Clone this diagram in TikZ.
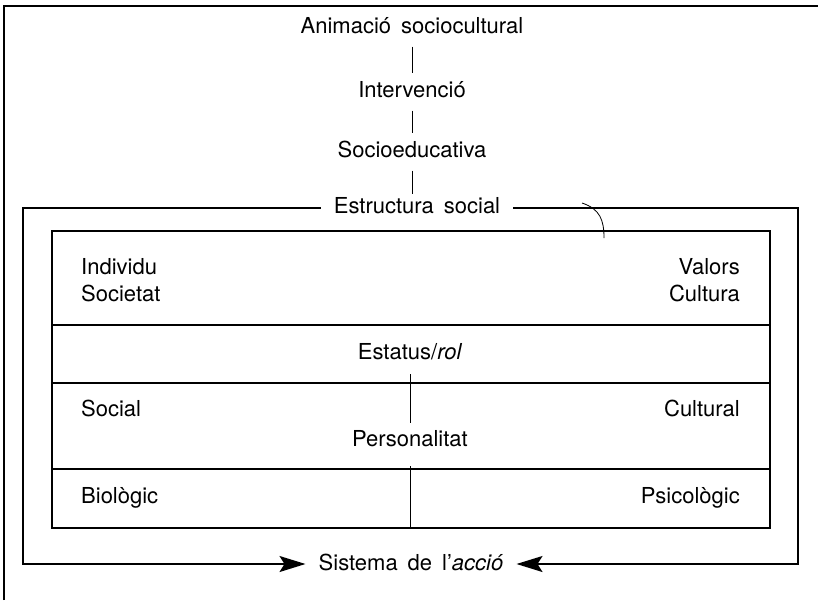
\documentclass[tikz,border=0pt]{standalone}
\usepackage{fontspec}
\setmainfont{TeX Gyre Heros}
\usetikzlibrary{arrows.meta,positioning}

\newcommand\lblfont{\fontsize{22}{25}\selectfont\spaceskip=10pt plus 2pt\relax}

\tikzset{
  lbl/.style={inner sep=3pt, text height=15pt, text depth=4pt, font=\lblfont},
  link/.style={line width=1pt, shorten <=6pt, shorten >=6pt},
  frame/.style={line width=1.6pt},
  gap/.style={lbl, inner xsep=13pt},
  tip/.style={-{Stealth[length=26pt, width=16pt, inset=5pt]}},
}

\begin{document}
\begin{tikzpicture}[x=1pt, y=-1pt]
  \useasboundingbox (0,0) rectangle (818,600);
  \draw[frame] (4,600) -- (4,6) -- (818,6);

  \node[lbl] (anim) at (412,28) {Animació sociocultural};
  \node[lbl] (interv) at (412,92) {Intervenció};
  \node[lbl] (socio) at (412,152) {Socioeducativa};
  \node[gap] (estr) at (417,208) {Estructura social};
  \draw[link] (anim) -- (interv);
  \draw[link] (interv) -- (socio);
  \draw[link, shorten >=1pt] (socio) -- (socio |- estr.north);

  \node[gap] (sist) at (411,565) {Sistema de l'\textit{acció}};
  \coordinate (otl) at (23,208);
  \coordinate (otr) at (798,208);
  \coordinate (obl) at (23,564);
  \coordinate (obr) at (798,564);
  \draw[frame, tip] (estr.west) -- (otl) -- (obl) -- (sist.west |- obl);
  \draw[frame, tip] (estr.east) -- (otr) -- (obr) -- (sist.east |- obr);
  \draw[line width=0.8pt] (582,203) .. controls (600,209) and (604,220) .. (604,238);

  \draw[frame] (52,231) rectangle (770,528);
  \draw[frame] (52,325) -- (770,325);
  \draw[frame] (52,383) -- (770,383);
  \draw[frame] (52,469) -- (770,469);
  \draw[line width=1pt] (410,374) -- (410,423);
  \draw[line width=1pt] (410,466) -- (410,528);

  \node[lbl, anchor=west] (indiv) at (78,269) {Individu};
  \node[lbl, anchor=west] (soc) at (78,296) {Societat};
  \node[lbl, anchor=east] (valors) at (743,269) {Valors};
  \node[lbl, anchor=east] (cult) at (743,296) {Cultura};
  \node[lbl] (estat) at (410,354) {Estatus/\textit{rol}};
  \node[lbl, anchor=west] (social) at (78,411) {Social};
  \node[lbl, anchor=east] (cultural) at (743,411) {Cultural};
  \node[lbl] (pers) at (410,441) {Personalitat};
  \node[lbl, anchor=west] (biol) at (78,498) {Biològic};
  \node[lbl, anchor=east] (psic) at (743,498) {Psicològic};
\end{tikzpicture}
\end{document}
